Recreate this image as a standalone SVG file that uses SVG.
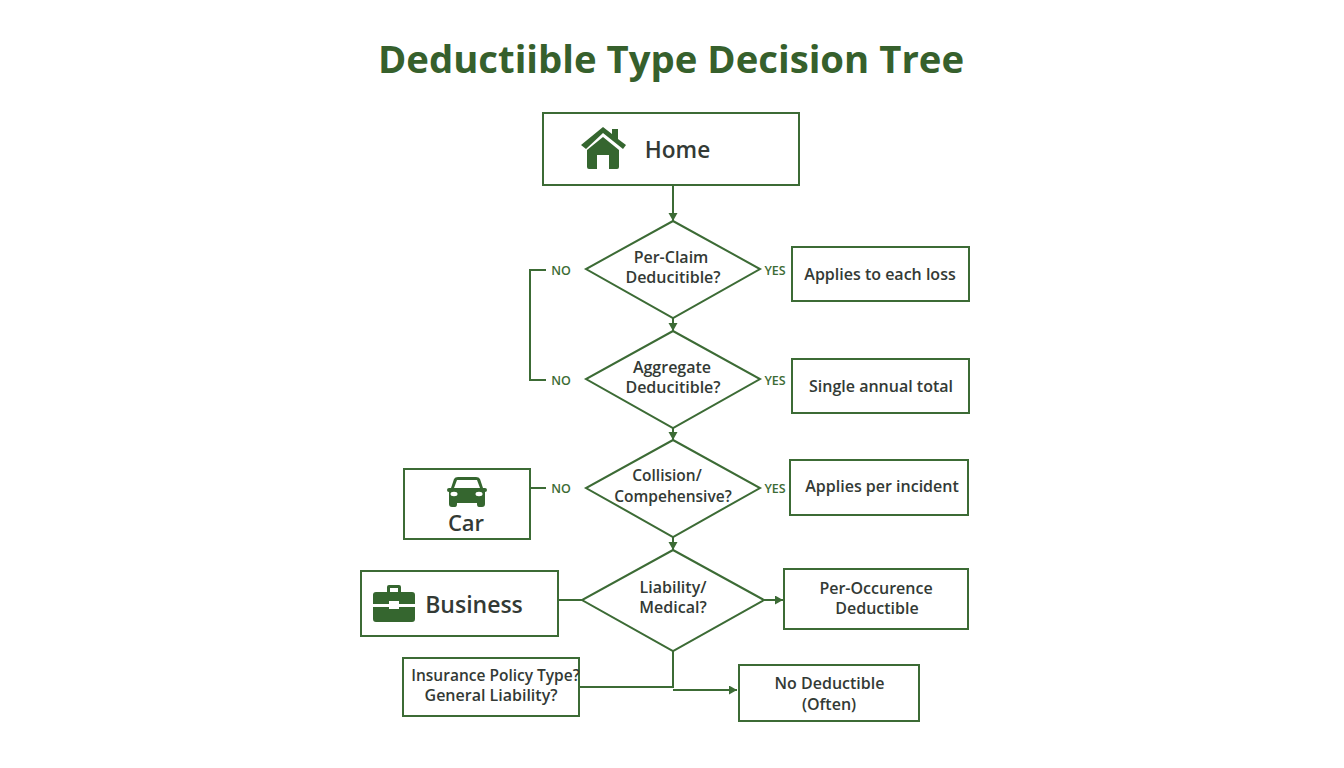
<svg xmlns="http://www.w3.org/2000/svg" width="1344" height="768" viewBox="0 0 1344 768">
<style>
.b{fill:#fff;stroke:#3c6b35;stroke-width:2}
.c{fill:none;stroke:#3c6b35;stroke-width:2}
.t{font-family:"Open Sans","Noto Sans",sans-serif;font-weight:600;fill:#333a35;text-anchor:middle;font-size:16px}
.l{font-family:"Open Sans","Noto Sans",sans-serif;font-weight:600;fill:#3c6b35;text-anchor:middle;font-size:12.5px}
.i{fill:#35662f}
</style>
<defs><marker id="a" markerUnits="userSpaceOnUse" markerWidth="10" markerHeight="10" refX="8" refY="4.5" orient="auto"><path d="M0 0L8 4.5L0 9Z" fill="#3c6b35"/></marker></defs>
<rect width="1344" height="768" fill="#fff"/>
<text x="671" y="73" text-anchor="middle" font-family="Open Sans,Noto Sans,sans-serif" font-weight="700" font-size="38.3" fill="#36602c">Deductiible Type Decision Tree</text>
<g id="connectors">
<path class="c" marker-end="url(#a)" d="M673 185V221"/>
<path class="c" marker-end="url(#a)" d="M673 318V331"/>
<path class="c" marker-end="url(#a)" d="M673 428V440"/>
<path class="c" marker-end="url(#a)" d="M673 537V550"/>
<path class="c" d="M546 270H530V380H546"/>
<path class="c" d="M530 488H546"/>
<path class="c" d="M558 600H582"/>
<path class="c" marker-end="url(#a)" d="M764 600H783"/>
<path class="c" d="M579 687H673V651"/>
<path class="c" marker-end="url(#a)" d="M673 690H737"/>
<text class="l" x="561" y="274.500">NO</text>
<text class="l" x="561" y="384.500">NO</text>
<text class="l" x="561" y="492.500">NO</text>
<text class="l" x="775" y="274.500">YES</text>
<text class="l" x="775" y="384.500">YES</text>
<text class="l" x="775" y="492.500">YES</text>
</g>
<g id="home"><rect class="b" x="543" y="113" width="256" height="72"/>
<path class="i" d="M586 149L581 145L603 127L612 134V129H618V139L626 145L623 149L603 133ZM587 150L603 137L619 150V167Q619 169 617 169H609V155H597V169H589Q587 169 587 167Z"/>
<text class="t" x="677.500" y="158" style="font-size:22.6px">Home</text></g>
<g id="d1"><polygon class="b" points="673,221 760,269 673,318 586,269"/><text class="t" x="671" y="263">Per-Claim</text><text class="t" x="673" y="283">Deducitible?</text></g>
<g id="r1"><rect class="b" x="792" y="247" width="177" height="54"/><text class="t" x="880" y="280">Applies to each loss</text></g>
<g id="d2"><polygon class="b" points="673,331 760,379 673,428 586,379"/><text class="t" x="672" y="373">Aggregate</text><text class="t" x="673" y="393">Deducitible?</text></g>
<g id="r2"><rect class="b" x="792" y="359" width="177" height="54"/><text class="t" x="881" y="392">Single annual total</text></g>
<g id="d3"><polygon class="b" points="673,440 760,488 673,537 586,488"/><text class="t" x="667" y="481" style="font-size:15.500px">Collision/</text><text class="t" x="673" y="502" style="font-size:15.500px">Compehensive?</text></g>
<g id="r3"><rect class="b" x="790" y="460" width="178" height="55"/><text class="t" x="882" y="492">Applies per incident</text></g>
<g id="car"><rect class="b" x="404" y="469" width="126" height="70"/>
<path class="i" d="M447 490Q447 488 449 488H451L454 479Q455 477 458 477H476Q479 477 480 479L483 488H485Q487 488 487 490Q487 492 485 492V504Q485 507 482 507H479Q477 507 477 504V503H457V504Q457 507 455 507H452Q449 507 449 504V492Q447 492 447 490ZM454 488H480L477 480H457Z"/>
<ellipse cx="454" cy="494" rx="3.500" ry="2.200" fill="#fff"/><ellipse cx="479" cy="494" rx="3.500" ry="2.200" fill="#fff"/>
<text class="t" x="466" y="531" style="font-size:22px">Car</text></g>
<g id="d4"><polygon class="b" points="673,550 764,600 673,651 582,600"/><text class="t" x="673" y="593">Liability/</text><text class="t" x="673" y="613">Medical?</text></g>
<g id="business"><rect class="b" x="361" y="571" width="197" height="65"/>
<path class="i" d="M387 592V587Q387 585 389 585H399Q401 585 401 587V592H412Q415 592 415 595V604H399V601H389V604H373V595Q373 592 376 592ZM390 592H398V588H390ZM373 607H389V609H399V607H415V619Q415 622 412 622H376Q373 622 373 619Z"/>
<rect x="390" y="602" width="8" height="6" rx="2" fill="#fff"/>
<text class="t" x="474" y="613" style="font-size:23px">Business</text></g>
<g id="r4"><rect class="b" x="784" y="569" width="184" height="60"/><text class="t" x="876" y="594">Per-Occurence</text><text class="t" x="877" y="614">Deductible</text></g>
<g id="policy"><rect class="b" x="403" y="658" width="176" height="58"/><text class="t" x="495.500" y="681" style="font-size:15.500px">Insurance Policy Type?</text><text class="t" x="491" y="701">General Liability?</text></g>
<g id="r5"><rect class="b" x="739" y="665" width="180" height="56"/><text class="t" x="829.500" y="689">No Deductible</text><text class="t" x="829" y="710">(Often)</text></g>
</svg>
